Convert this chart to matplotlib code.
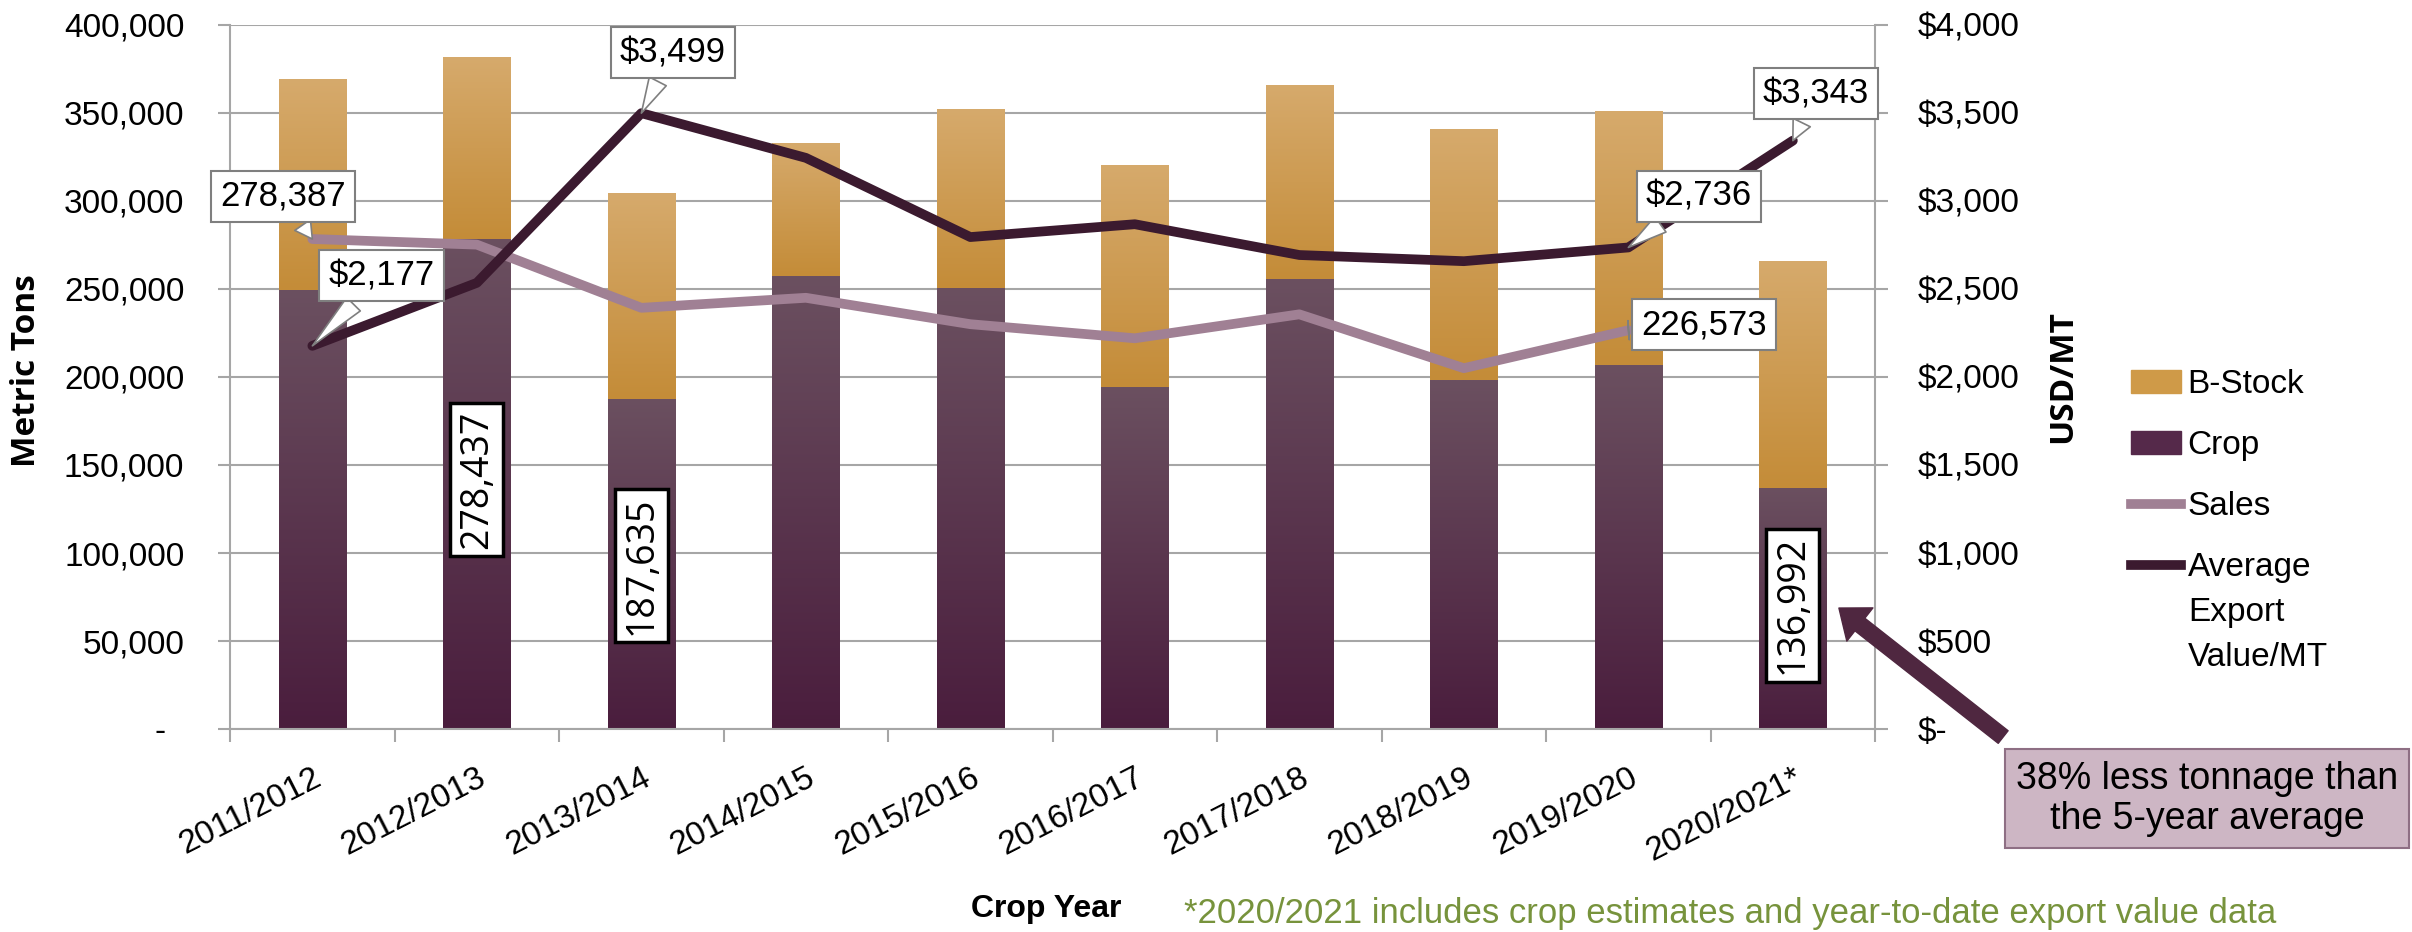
import numpy as np
import matplotlib.pyplot as plt
from matplotlib.colors import LinearSegmentedColormap
from matplotlib.lines import Line2D
from matplotlib.patches import Patch
from matplotlib.ticker import FuncFormatter

plt.rcParams['font.family'] = ['Liberation Sans', 'DejaVu Sans']

# data
years = ['2011/2012', '2012/2013', '2013/2014', '2014/2015', '2015/2016',
         '2016/2017', '2017/2018', '2018/2019', '2019/2020', '2020/2021*']
crop = [249700, 278437, 187635, 257100, 250800, 194100, 255400, 198100, 206600, 136992]
total = [369200, 381700, 304500, 332900, 352400, 320600, 365800, 341000, 351200, 266000]
b_stock = [t - c for t, c in zip(total, crop)]
sales = [278387, 275200, 239300, 245000, 230000, 222000, 235600, 205000, 226573, np.nan]
avg_value = [2177, 2535, 3499, 3245, 2795, 2868, 2693, 2658, 2736, 3343]

x = np.arange(len(years))

fig = plt.figure(figsize=(24.12, 9.32), dpi=100)
ax = fig.add_axes([0.0954, 0.2178, 0.682, 0.7554])

crop_bars = ax.bar(x, crop, width=0.41, color='#55294A', zorder=2)
stock_bars = ax.bar(x, b_stock, bottom=crop, width=0.41, color='#D19E4E', zorder=2)


# vertical gradient inside each bar
def shade(bars, top_col, bottom_col):
    cmap = LinearSegmentedColormap.from_list('g', [bottom_col, top_col])
    grad = np.linspace(0, 1, 256).reshape(-1, 1)
    for b in bars:
        x0, y0 = b.get_x(), b.get_y()
        im = ax.imshow(grad, cmap=cmap, origin='lower', aspect='auto',
                       extent=[x0, x0 + b.get_width(), y0, y0 + b.get_height()],
                       zorder=2.1)
        im.set_clip_path(b)


shade(crop_bars, '#6B5060', '#4A1D3D')
shade(stock_bars, '#D6AA6C', '#C48C38')

ax.plot(x, sales, color='#A08094', lw=7, zorder=3, solid_capstyle='round')

ax.set_xlim(-0.5, 9.5)
ax.set_ylim(0, 400000)
ax.set_yticks(np.arange(0, 400001, 50000))
ax.yaxis.set_major_formatter(FuncFormatter(lambda v, p: '-  ' if v == 0 else f'{v:,.0f}'))
ax.grid(axis='y', color='#A6A6A6', lw=1.5)
ax.set_axisbelow(True)

ax.set_xticks(x)
ax.set_xticklabels(years, rotation=27, ha='right', rotation_mode='anchor')
ax.set_xticks(np.arange(-0.5, 10, 1), minor=True)
ax.tick_params(axis='x', which='major', length=0, labelsize=24, pad=24)
ax.tick_params(axis='x', which='minor', length=9, color='#A6A6A6', width=1.5)
ax.tick_params(axis='y', labelsize=24, length=9, pad=24, color='#A6A6A6', width=1.5)

for s in ['top', 'right']:
    ax.spines[s].set_visible(False)
for s in ['left', 'bottom']:
    ax.spines[s].set_color('#A6A6A6')
    ax.spines[s].set_linewidth(1.5)

ax2 = ax.twinx()
ax2.plot(x, avg_value, color='#3B1A2F', lw=7, solid_capstyle='round')
ax2.set_ylim(0, 4000)
ax2.set_yticks(np.arange(0, 4001, 500))
ax2.yaxis.set_major_formatter(FuncFormatter(lambda v, p: '$-' if v == 0 else f'${v:,.0f}'))
ax2.tick_params(axis='y', labelsize=24, length=9, pad=22, color='#A6A6A6', width=1.5)
for s in ['top', 'left', 'bottom']:
    ax2.spines[s].set_visible(False)
ax2.spines['right'].set_color('#A6A6A6')
ax2.spines['right'].set_linewidth(1.5)

# callout labels
box = dict(boxstyle='square,pad=0.26', fc='white', ec='#7F7F7F', lw=1.5)
arrow = dict(arrowstyle='wedge,tail_width=0.55', fc='white', ec='#7F7F7F', lw=1.2, shrinkB=0)
callouts = [
    ('278,387', (0, sales[0]), ax.transData, (-0.18, 302600)),
    ('$2,177', (0, avg_value[0]), ax2.transData, (0.42, 257400)),
    ('$3,499', (2, avg_value[2]), ax2.transData, (2.19, 384300)),
    ('$2,736', (8, avg_value[8]), ax2.transData, (8.43, 302600)),
    ('226,573', (8, sales[8]), ax.transData, (8.46, 229600)),
    ('$3,343', (9, avg_value[9]), ax2.transData, (9.14, 360900)),
]
for txt, xy, tr, xyt in callouts:
    ax2.annotate(txt, xy=xy, xycoords=tr, xytext=xyt, textcoords=ax.transData,
                 ha='center', va='center', fontsize=25, bbox=box, arrowprops=arrow,
                 annotation_clip=False, zorder=5)

# crop values written inside the bars
crop_labels = [(1, 141700), (2, 93000), (9, 70400)]
for i, yy in crop_labels:
    ax2.text(i, yy, f'{crop[i]:,}', transform=ax.transData, rotation=90,
             ha='center', va='center', fontsize=27, family='Open Sans',
             bbox=dict(boxstyle='square,pad=0.2', fc='white', ec='black', lw=2.5), zorder=5)

fig.text(0.011, 0.602, 'Metric Tons', rotation=90, ha='center', va='center',
         fontsize=24, fontweight='bold', family='Open Sans')
fig.text(0.8553, 0.5955, 'USD/MT', rotation=90, ha='center', va='center',
         fontsize=24, fontweight='bold', family='Open Sans')
fig.text(0.4337, 0.0247, 'Crop Year', ha='center', va='center',
         fontsize=23, fontweight='bold')
fig.text(0.491, 0.002, '*2020/2021 includes crop estimates and year-to-date export value data',
         ha='left', va='bottom', fontsize=25, color='#77933C')

handles = [Patch(color='#CF9A48', label='B-Stock'),
           Patch(color='#55294A', label='Crop'),
           Line2D([], [], color='#A08094', lw=7, label='Sales'),
           Line2D([], [], color='#3B1A2F', lw=7, label='Average')]
fig.legend(handles=handles, loc='upper left', bbox_to_anchor=(0.871, 0.636),
           frameon=False, fontsize=24, handlelength=1.5, handleheight=0.65,
           handletextpad=0.2, labelspacing=0.9)
fig.text(0.9071, 0.3186, 'Export\nValue/MT', ha='left', va='center',
         fontsize=24, linespacing=1.55)

# big arrow and note
ax2.annotate('', xy=(0.7624, 0.3476), xycoords='figure fraction',
             xytext=(0.8305, 0.2092), textcoords='figure fraction',
             arrowprops=dict(arrowstyle='simple,head_length=0.6,head_width=0.95,tail_width=0.36',
                             fc='#4F2740', ec='#4F2740', mutation_scale=32, shrinkA=0, shrinkB=0),
             annotation_clip=False)
fig.text(0.915, 0.143, '38% less tonnage than\nthe 5-year average', ha='center', va='center',
         fontsize=27, linespacing=1.15,
         bbox=dict(boxstyle='square,pad=0.3', fc='#CDB6C4', ec='#8E6F84', lw=1.5))

fig.savefig('out.png', dpi=100)
